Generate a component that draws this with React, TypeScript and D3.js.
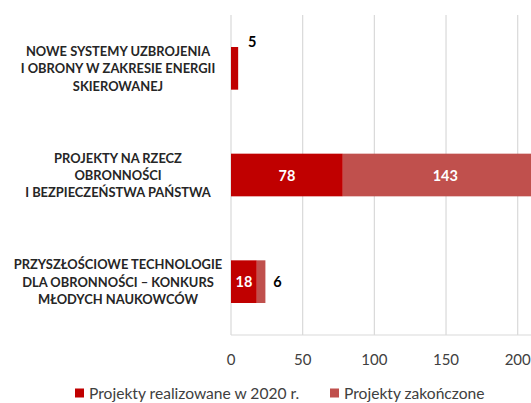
import React, { useEffect, useRef } from 'react';
import * as d3 from 'd3';

// dane
const categories = [
  ['NOWE SYSTEMY UZBROJENIA', 'I OBRONY W ZAKRESIE ENERGII', 'SKIEROWANEJ'],
  ['PROJEKTY NA RZECZ', 'OBRONNOŚCI', 'I BEZPIECZEŃSTWA PAŃSTWA'],
  ['PRZYSZŁOŚCIOWE TECHNOLOGIE', 'DLA OBRONNOŚCI – KONKURS', 'MŁODYCH NAUKOWCÓW'],
];
const realized = [5, 78, 18];
const finished = [0, 143, 6];
const xTicks = [0, 50, 100, 150, 200];
const seriesNames = ['Projekty realizowane w 2020 r.', 'Projekty zakończone'];
const seriesColors = ['#C00000', '#C0504D'];

const FONT = 'Lato, "Open Sans", sans-serif';

const App = () => {
  const ref = useRef<SVGSVGElement>(null);

  useEffect(() => {
    const svg = d3.select(ref.current);
    svg.selectAll('*').remove();

    const width = 531;
    const plot = { left: 231, top: 15, bottom: 335 };

    const x = d3.scaleLinear().domain([0, 200]).range([plot.left, 517.7]);
    const y = d3.scaleBand<number>()
      .domain(d3.range(categories.length))
      .range([plot.top, plot.bottom])
      .paddingInner(0.6)
      .paddingOuter(0.3);

    // siatka
    svg.append('g')
      .selectAll('line')
      .data(xTicks)
      .enter().append('line')
      .attr('x1', d => x(d))
      .attr('x2', d => x(d))
      .attr('y1', plot.top)
      .attr('y2', plot.bottom)
      .attr('stroke', '#D9D9D9')
      .attr('stroke-width', 1.2);

    svg.append('line')
      .attr('x1', plot.left)
      .attr('x2', width)
      .attr('y1', plot.bottom)
      .attr('y2', plot.bottom)
      .attr('stroke', '#D9D9D9')
      .attr('stroke-width', 1.2);

    // etykiety osi X
    svg.append('g')
      .selectAll('text')
      .data(xTicks)
      .enter().append('text')
      .attr('x', d => x(d))
      .attr('y', 359)
      .attr('text-anchor', 'middle')
      .attr('dominant-baseline', 'central')
      .attr('font-family', FONT)
      .attr('font-size', 15)
      .attr('fill', '#404040')
      .text(d => d);

    // kategorie
    categories.forEach((lines, i) => {
      const cy = y(i)! + y.bandwidth() / 2;
      const t = svg.append('text')
        .attr('text-anchor', 'middle')
        .attr('font-family', FONT)
        .attr('font-weight', 'bold')
        .attr('font-size', 12.9)
        .attr('fill', '#262626');
      lines.forEach((ln, j) => {
        t.append('tspan')
          .attr('x', 118)
          .attr('y', cy + (j - 1) * 17.3)
          .attr('dominant-baseline', 'central')
          .text(ln);
      });
    });

    const stacked = categories.map((_, i) => [
      { s: 0, x0: 0, x1: realized[i], v: realized[i] },
      { s: 1, x0: realized[i], x1: realized[i] + finished[i], v: finished[i] },
    ]);

    stacked.forEach((segs, i) => {
      segs.forEach(seg => {
        if (seg.v === 0) return;
        svg.append('rect')
          .attr('x', x(seg.x0))
          .attr('y', y(i)!)
          .attr('width', x(seg.x1) - x(seg.x0))
          .attr('height', y.bandwidth())
          .attr('fill', seriesColors[seg.s]);
      });
    });

    // etykiety danych
    stacked.forEach((segs, i) => {
      const cy = y(i)! + y.bandwidth() / 2;
      segs.forEach(seg => {
        if (seg.v === 0) return;
        const w = x(seg.x1) - x(seg.x0);
        const inside = w > 22;
        let lx = inside ? (x(seg.x0) + x(seg.x1)) / 2 : x(seg.x1) + 12;
        let ly = cy;
        // pierwsza kategoria – etykieta nad słupkiem
        if (!inside && finished[i] === 0) {
          lx = x(seg.x1) + 14;
          ly = y(i)! - 6;
        }
        svg.append('text')
          .attr('x', lx)
          .attr('y', ly)
          .attr('text-anchor', 'middle')
          .attr('dominant-baseline', 'central')
          .attr('font-family', FONT)
          .attr('font-weight', 'bold')
          .attr('font-size', 14.5)
          .attr('fill', inside ? '#FFFFFF' : '#000000')
          .text(seg.v);
      });
    });

    // legenda
    const legendX = [75, 330];
    seriesNames.forEach((name, i) => {
      svg.append('rect')
        .attr('x', legendX[i])
        .attr('y', 388.5)
        .attr('width', 9)
        .attr('height', 9)
        .attr('fill', seriesColors[i]);
      svg.append('text')
        .attr('x', legendX[i] + 14)
        .attr('y', 393)
        .attr('dominant-baseline', 'central')
        .attr('font-family', FONT)
        .attr('font-size', 15.6)
        .attr('fill', '#404040')
        .text(name);
    });
  }, []);

  return (
    <svg ref={ref} width={531} height={403}
      style={{ position: 'absolute', left: 0, top: 0, background: '#fff' }} />
  );
};

export default App;
